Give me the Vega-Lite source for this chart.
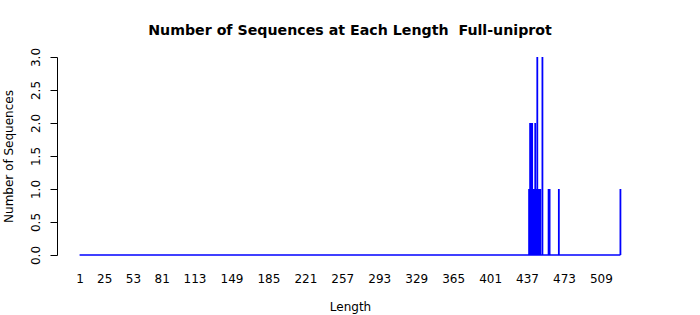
{
  "$schema": "https://vega.github.io/schema/vega-lite/v6.json",
  "autosize": "none",
  "width": 586,
  "height": 198,
  "padding": {"left": 57, "top": 57, "right": 57, "bottom": 60},
  "background": "white",
  "config": {
    "view": {"stroke": null},
    "font": "DejaVu Sans",
    "axis": {"labelFont": "DejaVu Sans", "titleFont": "DejaVu Sans", "labelColor": "black", "titleColor": "black", "titleFontWeight": "normal", "labelFontSize": 12, "titleFontSize": 12, "labelOverlap": false}
  },
  "title": {"text": "Number of Sequences at Each Length\u00a0\u00a0Full-uniprot", "fontSize": 14.2, "fontWeight": "bold", "font": "DejaVu Sans", "anchor": "middle", "offset": 9, "color": "black"},
  "datasets": {
    "counts": [
      {"length": 439, "count": 1},
      {"length": 440, "count": 2},
      {"length": 441, "count": 2},
      {"length": 442, "count": 2},
      {"length": 443, "count": 1},
      {"length": 444, "count": 1},
      {"length": 445, "count": 2},
      {"length": 446, "count": 1},
      {"length": 447, "count": 3},
      {"length": 448, "count": 1},
      {"length": 449, "count": 1},
      {"length": 450, "count": 1},
      {"length": 452, "count": 3},
      {"length": 458, "count": 1},
      {"length": 459, "count": 1},
      {"length": 468, "count": 1},
      {"length": 528, "count": 1}
    ],
    "baseline": [{"start": 1, "end": 528, "zero": 0}]
  },
  "layer": [
    {
      "data": {"name": "counts"},
      "mark": {"type": "rule", "color": "#0000ff", "strokeWidth": 1.8},
      "encoding": {
        "x": {"field": "length", "type": "quantitative", "scale": {"domain": [-21, 550], "nice": false, "zero": false},
          "axis": {"title": "Length", "values": [1, 25, 53, 81, 113, 149, 185, 221, 257, 293, 329, 365, 401, 437, 473, 509], "tickCount": 100, "domain": false, "ticks": false, "tickSize": 0, "grid": false, "labelPadding": 18, "titlePadding": 17, "labelFlush": false, "labelOverlap": false}},
        "y": {"field": "count", "type": "quantitative", "scale": {"domain": [0, 3], "nice": false},
          "axis": {"title": "Number of Sequences", "values": [0, 0.5, 1, 1.5, 2, 2.5, 3], "tickCount": 100, "format": ".1f", "labelAngle": 270, "labelAlign": "center", "labelBaseline": "bottom", "tickSize": 7, "tickColor": "black", "domainColor": "black", "grid": false, "labelPadding": 8, "titlePadding": 14, "labelFlush": false, "labelOverlap": false}},
        "y2": {"datum": 0}
      }
    },
    {
      "data": {"name": "baseline"},
      "mark": {"type": "rule", "color": "#0000ff", "strokeWidth": 1.5, "clip": false},
      "encoding": {
        "x": {"field": "start", "type": "quantitative"},
        "x2": {"field": "end"},
        "y": {"field": "zero", "type": "quantitative"}
      }
    }
  ]
}
